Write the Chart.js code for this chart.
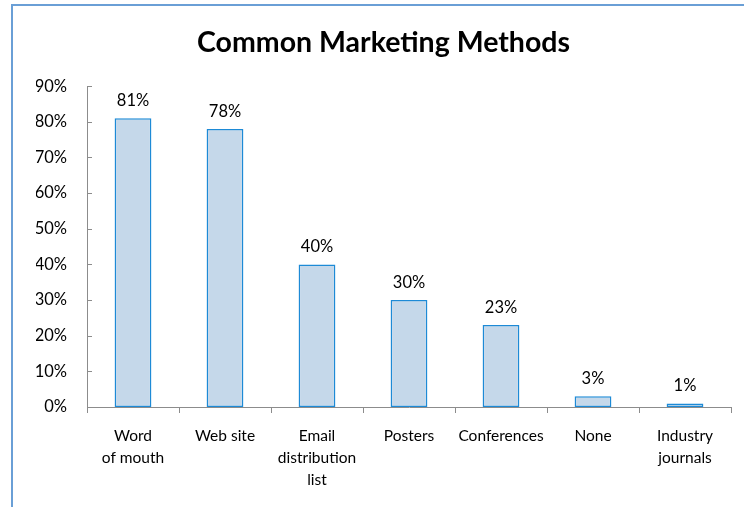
<!DOCTYPE html>
<html>
<head>
<meta charset="utf-8">
<script src="https://cdn.jsdelivr.net/npm/chart.js@4.4.1/dist/chart.umd.min.js"></script>
<style>
  html, body { margin: 0; padding: 0; background: #ffffff; }
  #wrap { position: relative; width: 744px; height: 507px; }
  canvas { display: block; }
</style>
</head>
<body>
<div id="wrap"><canvas id="c" width="744" height="507"></canvas></div>
<script>
const categories = [
  ["Word", "of mouth"],
  ["Web site"],
  ["Email", "distribution", "list"],
  ["Posters"],
  ["Conferences"],
  ["None"],
  ["Industry", "journals"]
];
const values = [81, 78, 40, 30, 23, 3, 1];
const valueLabels = ["81%", "78%", "40%", "30%", "23%", "3%", "1%"];
const yTicks = [0, 10, 20, 30, 40, 50, 60, 70, 80, 90];

const FONT = "Lato, 'Open Sans', sans-serif";

const framePlugin = {
  id: 'frame',
  beforeDraw(chart) {
    const ctx = chart.ctx;
    ctx.save();
    ctx.strokeStyle = '#6a9fd6';
    ctx.lineWidth = 2;
    ctx.strokeRect(12, 5, 1000, 1000);
    ctx.restore();
  }
};

const extrasPlugin = {
  id: 'extras',
  afterDatasetsDraw(chart) {
    const ctx = chart.ctx;
    const meta = chart.getDatasetMeta(0);
    ctx.save();
    ctx.fillStyle = '#000000';
    ctx.font = "16.5px " + FONT;
    ctx.textAlign = 'center';
    ctx.textBaseline = 'alphabetic';
    meta.data.forEach((bar, i) => {
      ctx.fillText(valueLabels[i], bar.x, bar.y - 12);
    });
    const ys = chart.scales.y;
    const left = chart.chartArea.left;
    ctx.strokeStyle = '#8c8c8c';
    ctx.lineWidth = 1;
    yTicks.forEach(v => {
      const py = Math.round(ys.getPixelForValue(v)) + 0.5;
      ctx.beginPath();
      ctx.moveTo(left, py);
      ctx.lineTo(left + 5, py);
      ctx.stroke();
    });
    ctx.restore();
  }
};

new Chart(document.getElementById('c'), {
  type: 'bar',
  data: {
    labels: categories,
    datasets: [{
      data: values,
      backgroundColor: '#c5d8ea',
      borderColor: '#1d8ad6',
      borderWidth: 1.5,
      borderSkipped: false,
      categoryPercentage: 1.0,
      barPercentage: 0.4
    }]
  },
  options: {
    responsive: false,
    animation: false,
    devicePixelRatio: 1,
    layout: { padding: { top: 6, right: 13, bottom: 0, left: 36 } },
    plugins: {
      legend: { display: false },
      tooltip: { enabled: false },
      title: {
        display: true,
        text: 'Common Marketing Methods',
        color: '#000000',
        font: { family: FONT, size: 28.5, weight: 'bold' },
        padding: { top: 20, bottom: 26 }
      }
    },
    scales: {
      x: {
        offset: true,
        grid: {
          display: true,
          offset: true,
          drawOnChartArea: false,
          drawTicks: true,
          tickLength: 6,
          color: '#8c8c8c'
        },
        border: { display: true, color: '#8c8c8c', width: 1 },
        ticks: {
          color: '#000000',
          font: { family: FONT, size: 15.5, lineHeight: 1.42 },
          padding: 12,
          maxRotation: 0,
          autoSkip: false
        },
        afterFit(scale) { scale.height = 100; }
      },
      y: {
        min: 0,
        max: 90,
        grid: { display: false, drawTicks: false },
        border: { display: true, color: '#8c8c8c', width: 1 },
        afterBuildTicks(scale) { scale.ticks = yTicks.map(v => ({ value: v })); },
        ticks: {
          color: '#000000',
          font: { family: FONT, size: 16.5 },
          padding: 20,
          callback: (v) => v + '%'
        },
        afterFit(scale) { scale.width = 51; }
      }
    }
  },
  plugins: [framePlugin, extrasPlugin]
});
</script>
</body>
</html>
